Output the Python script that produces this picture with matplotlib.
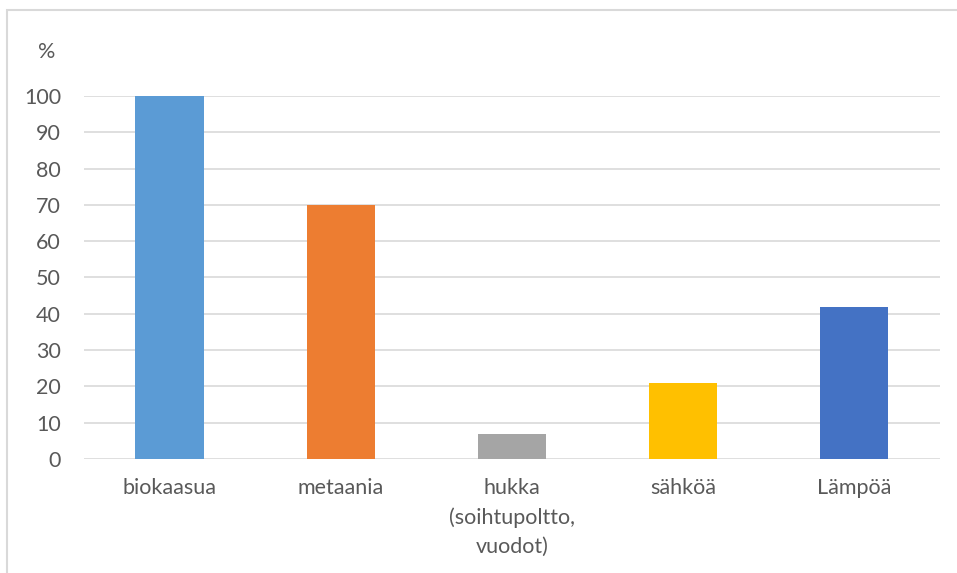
import matplotlib
matplotlib.use('Agg')
import matplotlib.pyplot as plt
from matplotlib.patches import Rectangle

categories = ['biokaasua', 'metaania', 'hukka\n(soihtupoltto,\nvuodot)', 'sähköä', 'Lämpöä']
values = [100, 70, 7, 21, 42]
colors = ['#5B9BD5', '#ED7D31', '#A5A5A5', '#FFC000', '#4472C4']

plt.rcParams['font.family'] = ['Lato', 'DejaVu Sans']

fig = plt.figure(figsize=(9.57, 5.73), dpi=100)
ax = fig.add_axes([0.0878, 0.199, 0.8942, 0.6335])

x = range(len(categories))
ax.bar(x, values, width=0.4, color=colors, zorder=3)

ax.set_xlim(-0.5, len(categories) - 0.5)
ax.set_ylim(0, 100)
ax.set_yticks(range(0, 101, 10))
ax.set_xticks(list(x))
ax.set_xticklabels(categories, linespacing=1.55, va='top')
ax.grid(axis='y', color='#D9D9D9', linewidth=1.2, zorder=0)
ax.tick_params(axis='both', length=0, labelsize=15.5, labelcolor='#595959')
ax.tick_params(axis='x', pad=14)
ax.tick_params(axis='y', pad=16.5)
for s in ax.spines.values():
    s.set_visible(False)

fig.text(0.049, 0.909, '%', fontsize=15.5, color='#595959', ha='center', va='center')

# outer chart frame
fig.patches.append(Rectangle((0.007, -0.1), 1.2, 1.083, transform=fig.transFigure,
                             fill=False, edgecolor='#D9D9D9', linewidth=1.5))

fig.savefig('out.png', dpi=100)
